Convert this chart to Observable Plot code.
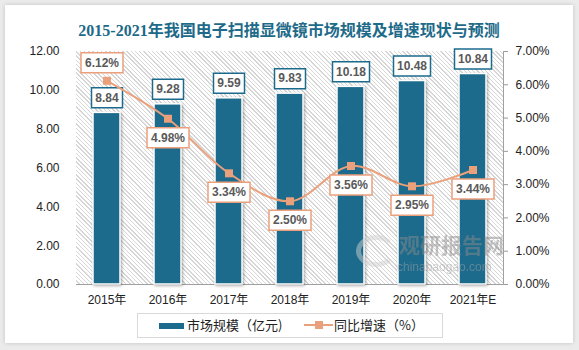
<!DOCTYPE html>
<html>
<head>
<meta charset="utf-8">
<script src="https://cdn.jsdelivr.net/npm/d3@7"></script>
<script src="https://cdn.jsdelivr.net/npm/@observablehq/plot@0.6"></script>
<style>
  html, body { margin: 0; padding: 0; }
  body { width: 579px; height: 350px; background: #ebebeb; position: relative; overflow: hidden;
         font-family: "Liberation Sans", "Noto Sans CJK SC", sans-serif; }
  #card { position: absolute; left: 5px; top: 5px; width: 568px; height: 338px; background: #fff;
          box-shadow: 0 0 4px rgba(0,0,0,0.18); }
  #hatch { position: absolute; left: 76px; top: 51px; width: 427px; height: 233px;
           background: repeating-linear-gradient(45deg, #ffffff 0px, #ffffff 2px, #d6d6d6 2px, #d6d6d6 3px); }
  #title { position: absolute; left: 0; top: 17px; width: 578px; text-align: center; font-size: 16px; font-weight: bold;
           color: #1d6a89; font-family: "Liberation Serif", "Noto Sans CJK SC", serif; white-space: nowrap; }
  #chart { position: absolute; left: 0; top: 0; }
  #wm { position: absolute; left: 354px; top: 230px; width: 160px; height: 46px; opacity: 0.5; pointer-events: none; }
  #wm .ring { position: absolute; left: 2px; top: 5px; width: 30px; height: 22px; border-radius: 50%;
              border: 5px solid #d0d0d0; border-right-color: transparent; }
  #wm .cn { position: absolute; left: 45px; top: 3px; font-size: 21px; line-height: 22px; font-weight: bold; color: #8a8a8a;
            font-family: "Noto Sans CJK SC", sans-serif; }
  #wm .en { position: absolute; left: 43px; top: 31px; font-size: 12px; line-height: 13px; color: #a0a0a0; font-family: "Liberation Sans", sans-serif; }
  #legend { position: absolute; left: 137px; top: 313px; width: 304px; height: 23px; border: 1px solid #d9d9d9; background: #fff;
            font-family: "Noto Sans CJK SC", sans-serif; font-size: 13px; color: #222; }
  #legend .sw1 { position: absolute; left: 21px; top: 9px; width: 25px; height: 6px; background: #1c6b8d; }
  #legend .t1 { position: absolute; left: 49px; top: 2px; line-height: 18px; }
  #legend .ln { position: absolute; left: 166px; top: 10px; width: 29px; height: 2px; background: #eba07c; }
  #legend .mk { position: absolute; left: 177px; top: 7px; width: 8px; height: 8px; background: #eba07c; }
  #legend .t2 { position: absolute; left: 196px; top: 2px; line-height: 18px; }
</style>
</head>
<body>
<div id="card"></div>
<div id="hatch"></div>
<div id="title">2015-2021年我国电子扫描显微镜市场规模及增速现状与预测</div>
<div id="chart"></div>
<div id="wm"><div class="ring"></div><div class="cn">观研报告网</div><div class="en">chinabaogao.com</div></div>
<div id="legend">
  <div class="sw1"></div><div class="t1">市场规模（亿元)</div>
  <div class="ln"></div><div class="mk"></div><div class="t2">同比增速（%）</div>
</div>
<script>
// ---- data ----
const years = ["2015年", "2016年", "2017年", "2018年", "2019年", "2020年", "2021年E"];
const marketSize = [8.84, 9.28, 9.59, 9.83, 10.18, 10.48, 10.84];      // 亿元
const growthRate = [6.12, 4.98, 3.34, 2.50, 3.56, 2.95, 3.44];          // %
const leftTicks = [0, 2, 4, 6, 8, 10, 12];
const rightTicks = [0, 1, 2, 3, 4, 5, 6, 7];

const k = 12 / 7; // right axis (0–7%) mapped onto left axis (0–12)
const rows = years.map((year, i) => ({year, size: marketSize[i], rate: growthRate[i], ry: growthRate[i] * k, i}));

const barColor = "#1c6b8d";
const lineColor = "#eba07c";
const labelColor = "#595959";

function boxSymbol(w, h) {
  return { draw(ctx) { ctx.rect(-w / 2, -h / 2, w, h); } };
}

const chart = Plot.plot({
  width: 579,
  height: 310,
  marginLeft: 76,
  marginRight: 76,
  marginTop: 51,
  marginBottom: 26,
  style: {background: "transparent", fontFamily: "'Liberation Sans', 'Noto Sans CJK SC', sans-serif", fontSize: "12px", color: "#222"},
  x: {domain: years, paddingInner: 0.56, paddingOuter: 0.28, label: null},
  y: {domain: [0, 12], label: null},
  marks: [
    Plot.axisY(leftTicks, {tickSize: 0, tickPadding: 17, tickFormat: d => d.toFixed(2), label: null}),
    Plot.axisY(rightTicks.map(v => v * k), {anchor: "right", tickSize: 4, tickPadding: 8, stroke: "#999",
      tickFormat: d => (d / k).toFixed(2) + "%", label: null}),
    Plot.axisX({tickSize: 0, tickPadding: 11, label: null, fontSize: 12}),
    Plot.frame({anchor: "right", stroke: "#a0a0a0"}),
    Plot.ruleY([0], {stroke: "#a0a0a0"}),
    Plot.barY(rows, {x: "year", y: "size", fill: barColor, stroke: "white", strokeWidth: 1.5}),
    // bar value boxes
    Plot.dot(rows.filter(d => d.size < 10), {x: "year", y: "size", dy: -15, r: 1, symbol: boxSymbol(31, 20), fill: "white", stroke: barColor, strokeWidth: 1.5}),
    Plot.dot(rows.filter(d => d.size >= 10), {x: "year", y: "size", dy: -15, r: 1, symbol: boxSymbol(37, 20), fill: "white", stroke: barColor, strokeWidth: 1.5}),
    Plot.text(rows, {x: "year", y: "size", dy: -15, text: d => d.size.toFixed(2), fill: labelColor, fontWeight: "bold", fontSize: 12}),
    // growth line
    Plot.line(rows, {x: "year", y: "ry", stroke: lineColor, strokeWidth: 2, curve: "catmull-rom"}),
    Plot.dot(rows, {x: "year", y: "ry", symbol: "square", r: 4.5, fill: lineColor}),
    // growth labels: first above, others below
    Plot.dot(rows.filter(d => d.i === 0), {x: "year", y: "ry", dx: -5, dy: -18, r: 1, symbol: boxSymbol(42, 20), fill: "white", stroke: lineColor, strokeWidth: 1.5}),
    Plot.text(rows.filter(d => d.i === 0), {x: "year", y: "ry", dx: -5, dy: -18, text: d => d.rate.toFixed(2) + "%", fill: labelColor, fontWeight: "bold", fontSize: 12}),
    Plot.dot(rows.filter(d => d.i > 0), {x: "year", y: "ry", dy: 19, r: 1, symbol: boxSymbol(42, 20), fill: "white", stroke: lineColor, strokeWidth: 1.5}),
    Plot.text(rows.filter(d => d.i > 0), {x: "year", y: "ry", dy: 19, text: d => d.rate.toFixed(2) + "%", fill: labelColor, fontWeight: "bold", fontSize: 12})
  ]
});

d3.select(chart).selectAll("g[aria-label='bar'] rect")
  .style("filter", "drop-shadow(1.5px 1.5px 1.5px rgba(0,0,0,0.35))");

document.getElementById("chart").appendChild(chart);
</script>
</body>
</html>
